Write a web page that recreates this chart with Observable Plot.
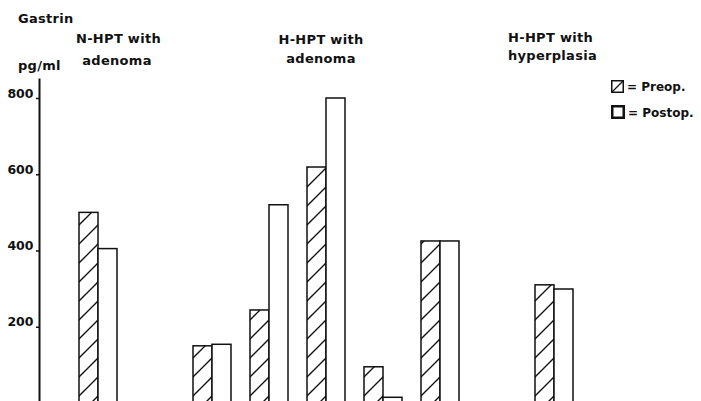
<!DOCTYPE html>
<html><head><meta charset="utf-8">
<script src="https://cdn.jsdelivr.net/npm/d3@7"></script>
<script src="https://cdn.jsdelivr.net/npm/@observablehq/plot@0.6"></script>
<style>
body{margin:0;background:#fff}
#wrap{position:relative;width:701px;height:401px;overflow:hidden;font-family:"DejaVu Sans",sans-serif;color:#111}
#wrap svg.plot{position:absolute;left:0;top:0}
.lbl{position:absolute;font-size:13px;font-weight:bold;white-space:nowrap;line-height:13px;letter-spacing:0.3px}
.c{transform:translateX(-50%)}
.leg{position:absolute;display:flex;align-items:flex-end;font-size:12px;font-weight:bold;line-height:12px;white-space:nowrap}
</style></head><body><div id="wrap"></div>
<script>
// Data
const slots = ["N1", "gapA", "A1", "A2", "A3", "A4", "A5", "gapB", "P1"];
const preop  = [500, null, 150, 244, 619, 95, 425, null, 310];
const postop = [405, null, 154, 520, 800, 15, 425, null, 299];
const phases = ["Preop.", "Postop."];
const yTicks = [200, 400, 600, 800];
const yTitle = ["Gastrin", "pg/ml"];
const groupTitles = [
  ["N-HPT with", "adenoma"],
  ["H-HPT with", "adenoma"],
  ["H-HPT with", "hyperplasia"]
];

const rows = [];
slots.forEach((s, i) => {
  if (preop[i] != null) rows.push({key: s + "|pre", phase: phases[0], value: preop[i]});
  if (postop[i] != null) rows.push({key: s + "|post", phase: phases[1], value: postop[i]});
});
const xDomain = slots.flatMap(s => [s + "|pre", s + "|post", s + "|gap"]);
const step = 19.13;

const chart = Plot.plot({
  width: 701,
  height: 401,
  marginTop: 79,
  marginBottom: 0,
  marginLeft: 39,
  marginRight: 0,
  style: {background: "transparent", color: "#111", fontFamily: "DejaVu Sans, sans-serif"},
  x: {type: "band", domain: xDomain, range: [77, 77 + step * xDomain.length], padding: 0, axis: null},
  y: {domain: [0, 800], range: [403, 98], ticks: yTicks, label: null},
  marks: [
    Plot.barY(rows.filter(d => d.phase === phases[0]), {x: "key", y: "value", fill: "url(#hatch)", stroke: "#111", strokeWidth: 1.5, insetLeft: 0, insetRight: 0}),
    Plot.barY(rows.filter(d => d.phase === phases[1]), {x: "key", y: "value", fill: "white", stroke: "#111", strokeWidth: 1.5, insetLeft: 0, insetRight: 0}),
    Plot.frame({anchor: "left", stroke: "#111", strokeWidth: 2}),
    Plot.axisY({ticks: yTicks, tickSize: 3, tickFormat: () => null, label: null, strokeWidth: 1.5}),
    Plot.axisY({ticks: yTicks, tickSize: 0, tickPadding: 6, fontSize: 12.5, fontWeight: "bold", dy: -5, label: null, tickFormat: d => String(d)})
  ]
});

const svg = d3.select(chart);
const defs = svg.insert("defs", ":first-child");
const pat = defs.append("pattern").attr("id", "hatch").attr("patternUnits", "userSpaceOnUse")
  .attr("width", 19).attr("height", 19);
pat.append("rect").attr("width", 19).attr("height", 19).attr("fill", "white");
pat.append("path").attr("d", "M-5,5 L5,-5 M0,19 L19,0 M14,24 L24,14")
  .attr("stroke", "#111").attr("stroke-width", 1.4).attr("fill", "none");

const wrap = document.getElementById("wrap");
wrap.appendChild(chart);

function label(text, x, baseline, center, fs) {
  const d = document.createElement("div");
  d.className = "lbl" + (center ? " c" : "");
  d.textContent = text;
  const f = fs || 13;
  d.style.fontSize = f + "px";
  d.style.lineHeight = f + "px";
  d.style.left = x + "px";
  d.style.top = (baseline - 0.846 * f) + "px";
  wrap.appendChild(d);
}
label(yTitle[0], 18, 23, false);
label(yTitle[1], 18, 70, false);
label(groupTitles[0][0], 118.5, 43, true);
label(groupTitles[0][1], 117, 65, true);
label(groupTitles[1][0], 321, 44, true);
label(groupTitles[1][1], 321, 63, true);
label(groupTitles[2][0], 508, 42, false);
label(groupTitles[2][1], 508, 60, false);

function legendItem(phase, top, hatched) {
  const d = document.createElement("div");
  d.className = "leg";
  d.style.left = "611px";
  d.style.top = top + "px";
  const box = hatched
    ? `<svg width="13" height="13" style="display:block"><rect x="0.75" y="0.75" width="11.5" height="11.5" fill="white" stroke="#111" stroke-width="1.5"/><path d="M0.75,12.25 L12.25,0.75" stroke="#111" stroke-width="1.3"/></svg>`
    : `<svg width="14" height="14" style="display:block"><rect x="1.25" y="1.25" width="11.5" height="11.5" fill="white" stroke="#111" stroke-width="2.5"/></svg>`;
  d.innerHTML = box + `<span style="margin-left:3px">= ${phase}</span>`;
  wrap.appendChild(d);
}
legendItem(phases[0], 80, true);
legendItem(phases[1], 105, false);
</script>
</body></html>
